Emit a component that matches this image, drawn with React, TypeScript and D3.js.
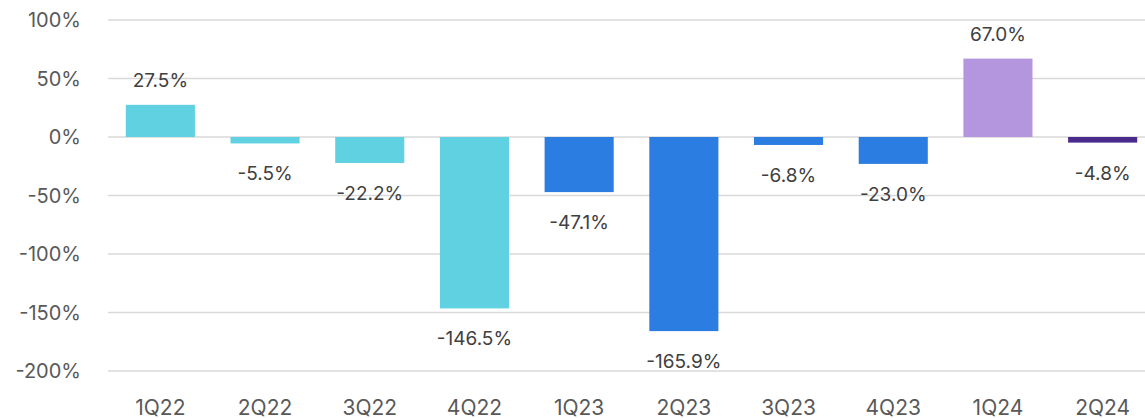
import React from "react";
import * as d3 from "d3";

const categories = ["1Q22", "2Q22", "3Q22", "4Q22", "1Q23", "2Q23", "3Q23", "4Q23", "1Q24", "2Q24"];
const values = [27.5, -5.5, -22.2, -146.5, -47.1, -165.9, -6.8, -23.0, 67.0, -4.8];
const colors = ["#5FD1E0", "#5FD1E0", "#5FD1E0", "#5FD1E0", "#2B7DE1", "#2B7DE1", "#2B7DE1", "#2B7DE1", "#B396DE", "#4B2A8D"];
const yTicks = [100, 50, 0, -50, -100, -150, -200];

const W = 1145;
const H = 418;

export default function App() {
  const x = d3.scaleBand<string>().domain(categories).range([108, 1155]).paddingInner(0.34).paddingOuter(0.17);
  const y = d3.scaleLinear().domain([-200, 100]).range([371, 20]);
  const font = "Inter, 'Noto Sans', sans-serif";
  return (
    <svg width={W} height={H} style={{ position: "absolute", left: 0, top: 0 }}>
      <rect x={0} y={0} width={W} height={H} fill="#fff" />
      {yTicks.map((t) => (
        <g key={t}>
          <line x1={108} x2={W} y1={y(t)} y2={y(t)} stroke="#d9d9d9" strokeWidth={1.5} />
          <text x={81} y={y(t)} dy="0.35em" textAnchor="end" fontFamily={font} fontSize={20} fill="#595959">
            {t}%
          </text>
        </g>
      ))}
      {categories.map((c, i) => {
        const v = values[i];
        const y0 = y(0);
        const yv = y(v);
        const top = Math.min(y0, yv);
        const h = Math.abs(yv - y0);
        const cx = (x(c) as number) + x.bandwidth() / 2;
        return (
          <g key={c}>
            <rect x={x(c)} y={top} width={x.bandwidth()} height={h} fill={colors[i]} />
            <text
              x={cx}
              y={v >= 0 ? yv - 18 : yv + 37}
              textAnchor="middle"
              fontFamily={font}
              fontSize={19}
              fill="#404040"
            >
              {v.toFixed(1)}%
            </text>
            <text x={cx} y={415} textAnchor="middle" fontFamily={font} fontSize={21} fill="#595959">
              {c}
            </text>
          </g>
        );
      })}
    </svg>
  );
}
